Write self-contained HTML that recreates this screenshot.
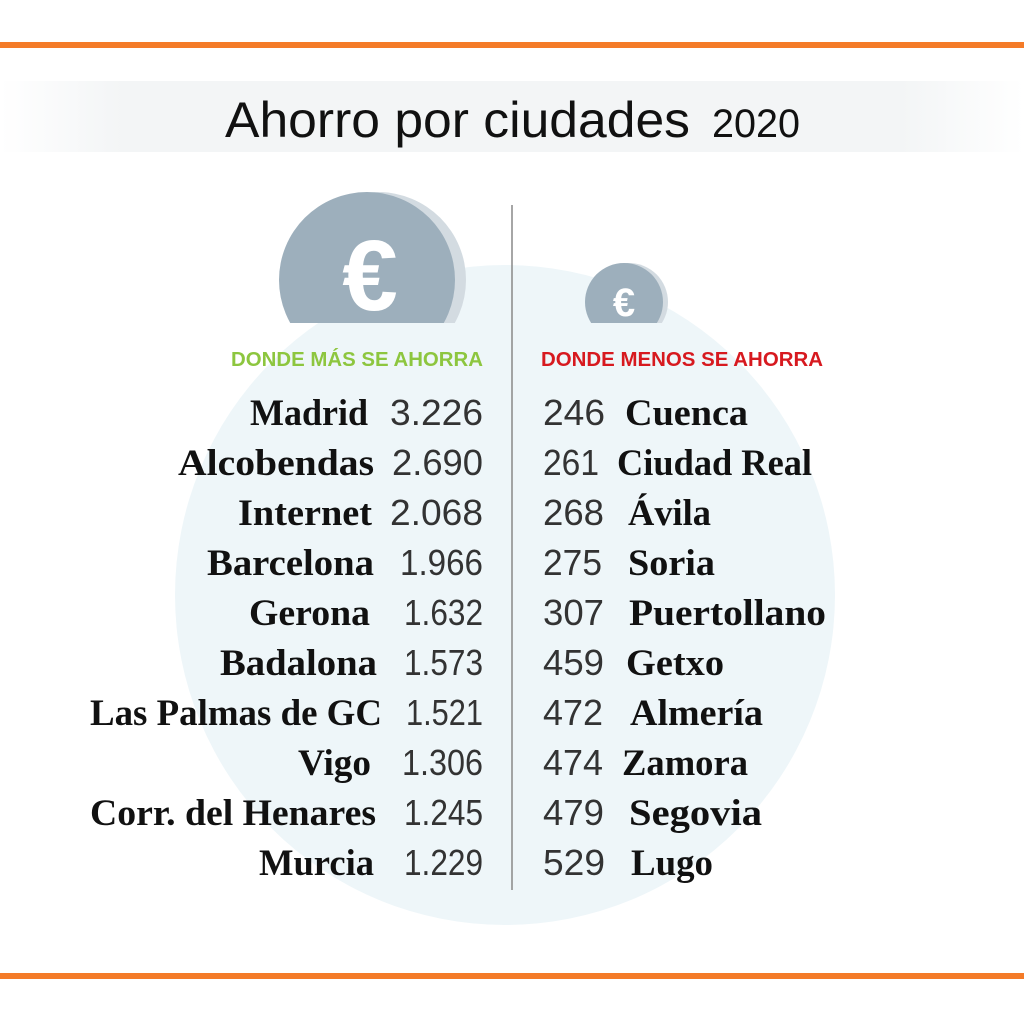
<!DOCTYPE html>
<html><head><meta charset="utf-8"><style>html,body{margin:0;padding:0;background:#fff}svg{display:block}</style></head><body>
<svg width="1024" height="1024" viewBox="0 0 1024 1024" xmlns="http://www.w3.org/2000/svg">
<defs>
<linearGradient id="band" x1="0" x2="1" y1="0" y2="0">
<stop offset="0" stop-color="#fff"/><stop offset="0.12" stop-color="#f3f5f6"/><stop offset="0.88" stop-color="#f3f5f6"/><stop offset="1" stop-color="#fff"/>
</linearGradient>
</defs>
<rect width="1024" height="1024" fill="#fff"/>
<rect x="0" y="42" width="1024" height="6" fill="#f47b28"/>
<rect x="0" y="973" width="1024" height="6" fill="#f47b28"/>
<rect x="0" y="81" width="1024" height="71" fill="url(#band)"/>
<text y="137" font-family="Liberation Sans, sans-serif" font-size="50" fill="#111"><tspan x="225" textLength="465" lengthAdjust="spacingAndGlyphs">Ahorro por ciudades</tspan><tspan font-size="40" x="712" textLength="88" lengthAdjust="spacingAndGlyphs">2020</tspan></text>
<circle cx="505" cy="595" r="330" fill="#eef6f9"/>
<clipPath id="cut"><rect x="0" y="0" width="1024" height="323"/></clipPath>
<g clip-path="url(#cut)">
<circle cx="378" cy="280" r="88" fill="#d3dbe1"/>
<circle cx="367" cy="280" r="88" fill="#9dafbc"/>
<circle cx="629" cy="302" r="39" fill="#d3dbe1"/>
<circle cx="624" cy="302" r="39" fill="#9dafbc"/>
</g>
<text x="370" y="310" text-anchor="middle" font-family="Liberation Sans, sans-serif" font-weight="bold" font-size="100" fill="#fff">€</text>
<text x="624" y="316" text-anchor="middle" font-family="Liberation Sans, sans-serif" font-weight="bold" font-size="40" fill="#fff">€</text>
<line x1="512" y1="205" x2="512" y2="890" stroke="#888" stroke-width="1.5"/>
<text x="231" y="366" textLength="252" lengthAdjust="spacingAndGlyphs" font-family="Liberation Sans, sans-serif" font-weight="bold" font-size="20" fill="#8dc63f">DONDE MÁS SE AHORRA</text>
<text x="541" y="366" textLength="282" lengthAdjust="spacingAndGlyphs" font-family="Liberation Sans, sans-serif" font-weight="bold" font-size="20" fill="#d7191f">DONDE MENOS SE AHORRA</text>
<g font-family="Liberation Serif, serif" font-weight="bold" font-size="37" fill="#111">
<text x="250" y="425" textLength="118" lengthAdjust="spacingAndGlyphs">Madrid</text>
<text x="178" y="475" textLength="196" lengthAdjust="spacingAndGlyphs">Alcobendas</text>
<text x="238" y="525" textLength="134" lengthAdjust="spacingAndGlyphs">Internet</text>
<text x="207" y="575" textLength="167" lengthAdjust="spacingAndGlyphs">Barcelona</text>
<text x="249" y="625" textLength="121" lengthAdjust="spacingAndGlyphs">Gerona</text>
<text x="220" y="675" textLength="157" lengthAdjust="spacingAndGlyphs">Badalona</text>
<text x="90" y="725" textLength="292" lengthAdjust="spacingAndGlyphs">Las Palmas de GC</text>
<text x="298" y="775" textLength="73" lengthAdjust="spacingAndGlyphs">Vigo</text>
<text x="90" y="825" textLength="286" lengthAdjust="spacingAndGlyphs">Corr. del Henares</text>
<text x="259" y="875" textLength="115" lengthAdjust="spacingAndGlyphs">Murcia</text>
<text x="625" y="425" textLength="123" lengthAdjust="spacingAndGlyphs">Cuenca</text>
<text x="617" y="475" textLength="195" lengthAdjust="spacingAndGlyphs">Ciudad Real</text>
<text x="628" y="525" textLength="83" lengthAdjust="spacingAndGlyphs">Ávila</text>
<text x="628" y="575" textLength="87" lengthAdjust="spacingAndGlyphs">Soria</text>
<text x="629" y="625" textLength="197" lengthAdjust="spacingAndGlyphs">Puertollano</text>
<text x="626" y="675" textLength="98" lengthAdjust="spacingAndGlyphs">Getxo</text>
<text x="630" y="725" textLength="133" lengthAdjust="spacingAndGlyphs">Almería</text>
<text x="622" y="775" textLength="126" lengthAdjust="spacingAndGlyphs">Zamora</text>
<text x="629" y="825" textLength="133" lengthAdjust="spacingAndGlyphs">Segovia</text>
<text x="631" y="875" textLength="82" lengthAdjust="spacingAndGlyphs">Lugo</text>
</g>
<g font-family="Liberation Sans, sans-serif" font-size="36" fill="#333">
<text x="390" y="425" textLength="93" lengthAdjust="spacingAndGlyphs">3.226</text>
<text x="392" y="475" textLength="91" lengthAdjust="spacingAndGlyphs">2.690</text>
<text x="390" y="525" textLength="93" lengthAdjust="spacingAndGlyphs">2.068</text>
<text x="400" y="575" textLength="83" lengthAdjust="spacingAndGlyphs">1.966</text>
<text x="404" y="625" textLength="79" lengthAdjust="spacingAndGlyphs">1.632</text>
<text x="404" y="675" textLength="79" lengthAdjust="spacingAndGlyphs">1.573</text>
<text x="406" y="725" textLength="77" lengthAdjust="spacingAndGlyphs">1.521</text>
<text x="402" y="775" textLength="81" lengthAdjust="spacingAndGlyphs">1.306</text>
<text x="404" y="825" textLength="79" lengthAdjust="spacingAndGlyphs">1.245</text>
<text x="404" y="875" textLength="79" lengthAdjust="spacingAndGlyphs">1.229</text>
<text x="543" y="425" textLength="62" lengthAdjust="spacingAndGlyphs">246</text>
<text x="543" y="475" textLength="56" lengthAdjust="spacingAndGlyphs">261</text>
<text x="543" y="525" textLength="61" lengthAdjust="spacingAndGlyphs">268</text>
<text x="543" y="575" textLength="59" lengthAdjust="spacingAndGlyphs">275</text>
<text x="543" y="625" textLength="61" lengthAdjust="spacingAndGlyphs">307</text>
<text x="543" y="675" textLength="61" lengthAdjust="spacingAndGlyphs">459</text>
<text x="543" y="725" textLength="60" lengthAdjust="spacingAndGlyphs">472</text>
<text x="543" y="775" textLength="60" lengthAdjust="spacingAndGlyphs">474</text>
<text x="543" y="825" textLength="61" lengthAdjust="spacingAndGlyphs">479</text>
<text x="543" y="875" textLength="62" lengthAdjust="spacingAndGlyphs">529</text>
</g>
</svg>
</body></html>
